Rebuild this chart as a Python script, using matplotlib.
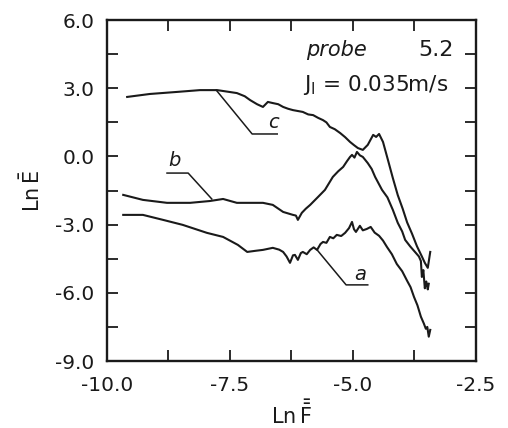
import matplotlib
matplotlib.use("Agg")
import matplotlib.pyplot as plt
from matplotlib.ticker import FixedLocator

# ---- data ----
a_x = [-9.67, -9.27, -8.86, -8.46, -7.97, -7.64, -7.34, -7.15, -6.98, -6.83, -6.63, -6.50, -6.42,
       -6.35, -6.28, -6.22, -6.18, -6.12, -6.06, -6.02, -5.94, -5.87, -5.80, -5.73, -5.66, -5.61,
       -5.54, -5.47, -5.40, -5.33, -5.24, -5.16, -5.08, -5.02, -4.98, -4.94, -4.86, -4.80, -4.72,
       -4.64, -4.56, -4.47, -4.39, -4.31, -4.21, -4.11, -4.00, -3.90, -3.83, -3.76, -3.69, -3.62,
       -3.56, -3.52, -3.49, -3.46, -3.43]
a_y = [-2.57, -2.57, -2.79, -3.01, -3.36, -3.54, -3.89, -4.20, -4.15, -4.11, -4.02, -4.10, -4.20,
       -4.40, -4.68, -4.35, -4.33, -4.55, -4.25, -4.20, -4.30, -4.11, -4.00, -4.11, -3.85, -3.76,
       -3.80, -3.54, -3.60, -3.45, -3.50, -3.36, -3.15, -2.88, -3.20, -3.32, -3.05, -3.25, -3.19,
       -3.10, -3.35, -3.49, -3.70, -3.98, -4.30, -4.73, -5.05, -5.47, -5.75, -6.18, -6.55, -7.05,
       -7.35, -7.58, -7.50, -7.93, -7.63]

b_x = [-9.67, -9.27, -8.78, -8.31, -7.91, -7.64, -7.36, -7.24, -6.83, -6.63, -6.42, -6.22,
       -6.16, -6.12, -6.04, -5.96, -5.87, -5.71, -5.57, -5.41, -5.30, -5.20, -5.12, -5.06, -5.02,
       -4.97, -4.92, -4.86, -4.80, -4.70, -4.62, -4.55, -4.41, -4.30, -4.19, -4.09, -4.00, -3.94,
       -3.84, -3.74, -3.66, -3.62, -3.60, -3.57, -3.54, -3.51, -3.48, -3.46]
b_y = [-1.69, -1.91, -2.04, -2.04, -1.96, -1.87, -2.04, -2.04, -2.04, -2.13, -2.44, -2.57,
       -2.60, -2.79, -2.48, -2.30, -2.13, -1.78, -1.47, -0.90, -0.65, -0.46, -0.20, -0.02, 0.07,
       -0.05, 0.20, 0.05, -0.02, -0.29, -0.55, -0.90, -1.47, -1.80, -2.35, -2.92, -3.30, -3.67,
       -3.95, -4.20, -4.40, -4.60, -5.30, -5.00, -5.80, -5.50, -5.85, -5.60]

c_x = [-9.59, -9.13, -8.58, -8.11, -7.76, -7.36, -7.20, -7.09, -6.95, -6.83, -6.73, -6.63,
       -6.52, -6.42, -6.32, -6.22, -6.12, -6.02, -5.91, -5.81, -5.71, -5.61, -5.54, -5.47, -5.37,
       -5.26, -5.16, -5.06, -4.98, -4.90, -4.80, -4.75, -4.70, -4.64, -4.59, -4.53, -4.47, -4.39,
       -4.29, -4.19, -4.09, -3.99, -3.90, -3.80, -3.70, -3.60, -3.54, -3.48, -3.43]
c_y = [2.62, 2.75, 2.84, 2.92, 2.92, 2.79, 2.65, 2.48, 2.30, 2.18, 2.40, 2.35,
       2.30, 2.18, 2.10, 2.04, 2.00, 1.96, 1.85, 1.82, 1.70, 1.60, 1.50, 1.30, 1.20,
       1.03, 0.85, 0.64, 0.50, 0.37, 0.29, 0.40, 0.51, 0.75, 0.95, 0.86, 0.99, 0.64,
       -0.15, -0.95, -1.70, -2.30, -2.90, -3.40, -3.95, -4.40, -4.68, -4.90, -4.20]

x_ticklabels = ["-10.0", "-7.5", "-5.0", "-2.5"]
x_major = [-10.0, -7.5, -5.0, -2.5]
x_minor = [-8.75, -6.25, -3.75]
y_ticklabels = ["6.0", "3.0", "0.0", "-3.0", "-6.0", "-9.0"]
y_major = [6.0, 3.0, 0.0, -3.0, -6.0, -9.0]
y_minor = [4.5, 1.5, -1.5, -4.5, -7.5]

# leader lines for the curve labels
lead_c_x = [-7.78, -7.05, -6.54]
lead_c_y = [2.92, 0.99, 0.99]
lead_b_x = [-8.78, -8.35, -7.87]
lead_b_y = [-0.73, -0.73, -1.87]
lead_a_x = [-5.73, -5.14, -4.70]
lead_a_y = [-4.11, -5.65, -5.65]

ink = "#1a1a1a"
plt.rcParams['font.family'] = ['DejaVu Sans']

fig = plt.figure(figsize=(5.08, 4.28), dpi=100)
ax = fig.add_axes([0.2106, 0.1565, 0.937 - 0.2106, 0.953 - 0.1565])

for xs, ys in [(a_x, a_y), (b_x, b_y), (c_x, c_y)]:
    ax.plot(xs, ys, color=ink, lw=1.5)

for xs, ys in [(lead_a_x, lead_a_y), (lead_b_x, lead_b_y), (lead_c_x, lead_c_y)]:
    ax.plot(xs, ys, color=ink, lw=1.1)

ax.text(-6.62, 1.5, "c", fontsize=14, style='italic', ha='center', va='center', color=ink)
ax.text(-8.62, -0.18, "b", fontsize=14, style='italic', ha='center', va='center', color=ink)
ax.text(-4.86, -5.2, "a", fontsize=14, style='italic', ha='center', va='center', color=ink)

ax.text(-5.33, 4.68, "probe", fontsize=15, style='italic', ha='center', va='center', color=ink)
ax.text(-3.31, 4.70, "5.2", fontsize=16, ha='center', va='center', color=ink)
ax.text(-4.55, 3.14, r"J$_\mathrm{I}$ = 0.035m/s", fontsize=15.5, ha='center', va='center', color=ink)

ax.set_xlim(-10, -2.5)
ax.set_ylim(-9, 6)
ax.xaxis.set_major_locator(FixedLocator(x_major))
ax.xaxis.set_minor_locator(FixedLocator(x_minor))
ax.yaxis.set_major_locator(FixedLocator(y_major))
ax.yaxis.set_minor_locator(FixedLocator(y_minor))
ax.set_xticklabels(x_ticklabels)
ax.set_yticklabels(y_ticklabels)
ax.tick_params(which='both', direction='in', length=8, width=1.3, top=True, right=True,
               colors=ink, labelsize=14.5)
ax.tick_params(axis='x', pad=11)
ax.tick_params(axis='y', pad=9)
for s in ax.spines.values():
    s.set_linewidth(1.7)
    s.set_color(ink)

ax.set_xlabel(r"Ln$\,\bar{\bar{\mathrm{F}}}$", fontsize=15, color=ink, labelpad=3)
ax.set_ylabel(r"Ln$\,\bar{\mathrm{E}}$", fontsize=15, color=ink, labelpad=8)

fig.savefig("out.png", dpi=100, facecolor="white")
